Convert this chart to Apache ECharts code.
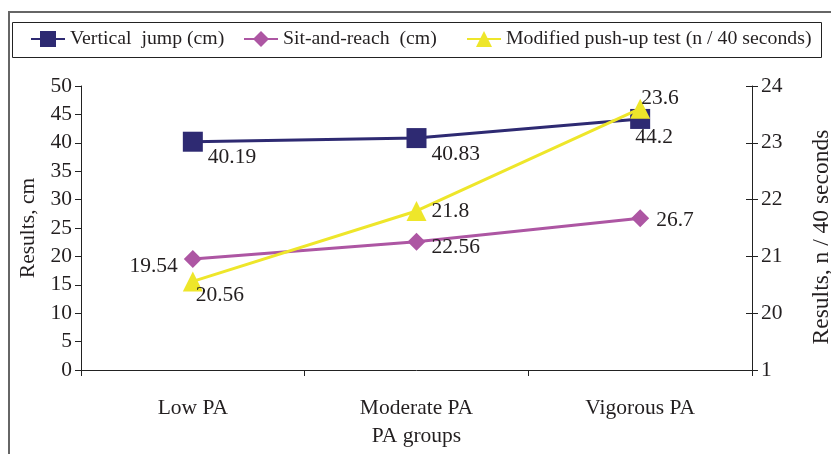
<!DOCTYPE html>
<html><head><meta charset="utf-8">
<script src="https://cdn.jsdelivr.net/npm/echarts@6/dist/echarts.min.js"></script>
<style>html,body{margin:0;padding:0;background:#fff}#c{width:831px;height:454px}</style>
</head><body><div id="c"></div>
<script>
const categories = ['Low PA', 'Moderate PA', 'Vigorous PA'];
const verticalJump = [40.19, 40.83, 44.2];
const sitAndReach = [19.54, 22.56, 26.7];
const pushUp = [20.56, 21.8, 23.6];
const leftTicks = [0, 5, 10, 15, 20, 25, 30, 35, 40, 45, 50];
const rightTickLabels = { 19: '1', 20: '20', 21: '21', 22: '22', 23: '23', 24: '24' };
const seriesNames = ['Vertical  jump (cm)', 'Sit-and-reach  (cm)', 'Modified push-up test (n / 40 seconds)'];

const FONT = 'Liberation Serif';
const FS = 21.5;
const txt = '#231f20';
const chart = echarts.init(document.getElementById('c'));
const lbl = (pos, off) => ({ show: true, position: pos, offset: off, color: txt, fontFamily: FONT, fontSize: FS });
const legendAt = (left, name) => ({
  left: left, top: 29, itemWidth: 34, itemHeight: 20, padding: 0,
  textStyle: { fontFamily: FONT, fontSize: 19.8, color: txt },
  data: [{ name: name }]
});

chart.setOption({
  animation: false,
  textStyle: { fontFamily: FONT },
  graphic: [
    { type: 'rect', shape: { x: 9, y: 12, width: 900, height: 500 }, style: { fill: 'none', stroke: '#666', lineWidth: 2 }, silent: true },
    { type: 'rect', shape: { x: 12.5, y: 22.5, width: 809, height: 35 }, style: { fill: 'none', stroke: '#222', lineWidth: 1 }, silent: true }
  ],
  legend: [legendAt(30, seriesNames[0]), legendAt(243, seriesNames[1]), legendAt(466, seriesNames[2])],
  grid: { left: 81, right: 79, top: 86, bottom: 84, outerBoundsMode: 'none', containLabel: false },
  xAxis: {
    type: 'category', data: categories, boundaryGap: true,
    name: 'PA groups', nameLocation: 'middle', nameGap: 55,
    nameTextStyle: { fontFamily: FONT, fontSize: FS, color: txt },
    axisLine: { lineStyle: { color: '#222', width: 1 } },
    axisTick: { show: true, length: 6, lineStyle: { color: '#222' } },
    axisLabel: { color: txt, fontFamily: FONT, fontSize: FS, margin: 27 }
  },
  yAxis: [
    {
      type: 'value', min: 0, max: 50, interval: 5, position: 'left',
      name: 'Results, cm', nameLocation: 'middle', nameGap: 42, nameRotate: 90,
      nameTextStyle: { fontFamily: FONT, fontSize: FS, color: txt },
      axisLine: { show: true, lineStyle: { color: '#222' } },
      axisTick: { show: true, length: 6, lineStyle: { color: '#222' } },
      axisLabel: { color: txt, fontFamily: FONT, fontSize: FS, margin: 9, formatter: v => leftTicks.includes(v) ? String(v) : '' },
      splitLine: { show: false }
    },
    {
      type: 'value', min: 19, max: 24, interval: 1, position: 'right',
      name: 'Results, n / 40 seconds', nameLocation: 'middle', nameGap: 58, nameRotate: 90,
      nameTextStyle: { fontFamily: FONT, fontSize: 23.5, color: txt, padding: [0, 18, 0, 0] },
      axisLine: { show: true, lineStyle: { color: '#222' } },
      axisTick: { show: true, length: 6, lineStyle: { color: '#222' } },
      axisLabel: { color: txt, fontFamily: FONT, fontSize: FS, margin: 9, formatter: v => rightTickLabels[v] || '' },
      splitLine: { show: false }
    },
    {
      type: 'value', min: 19, max: 24, interval: 1, position: 'right',
      axisLine: { show: false },
      axisTick: { show: true, inside: true, length: 6, lineStyle: { color: '#222' } },
      axisLabel: { show: false }, splitLine: { show: false }
    }
  ],
  series: [
    {
      name: seriesNames[0], type: 'line', yAxisIndex: 0,
      data: [
        { value: verticalJump[0], label: lbl('right', [0, 16]) },
        { value: verticalJump[1], label: lbl('right', [0, 16]) },
        { value: verticalJump[2], label: lbl('bottom', [14, -8]) }
      ],
      symbol: 'rect', symbolSize: 20, z: 3,
      lineStyle: { color: '#2e2a72', width: 3 }, itemStyle: { color: '#2e2a72' }
    },
    {
      name: seriesNames[1], type: 'line', yAxisIndex: 0,
      data: [
        { value: sitAndReach[0], label: lbl('left', [-1, 7]) },
        { value: sitAndReach[1], label: lbl('right', [1, 6]) },
        { value: sitAndReach[2], label: lbl('right', [2, 2]) }
      ],
      symbol: 'diamond', symbolSize: 18, z: 4,
      lineStyle: { color: '#ad56a3', width: 3 }, itemStyle: { color: '#ad56a3' }
    },
    {
      name: seriesNames[2], type: 'line', yAxisIndex: 1,
      data: [
        { value: pushUp[0], label: lbl('bottom', [27, -12]) },
        { value: pushUp[1], label: lbl('right', [0, 0]) },
        { value: pushUp[2], label: lbl('right', [-14, -10]) }
      ],
      symbol: 'triangle', symbolSize: 20, z: 5,
      lineStyle: { color: '#eee62a', width: 3 }, itemStyle: { color: '#eee62a' }
    }
  ]
});
</script></body></html>
